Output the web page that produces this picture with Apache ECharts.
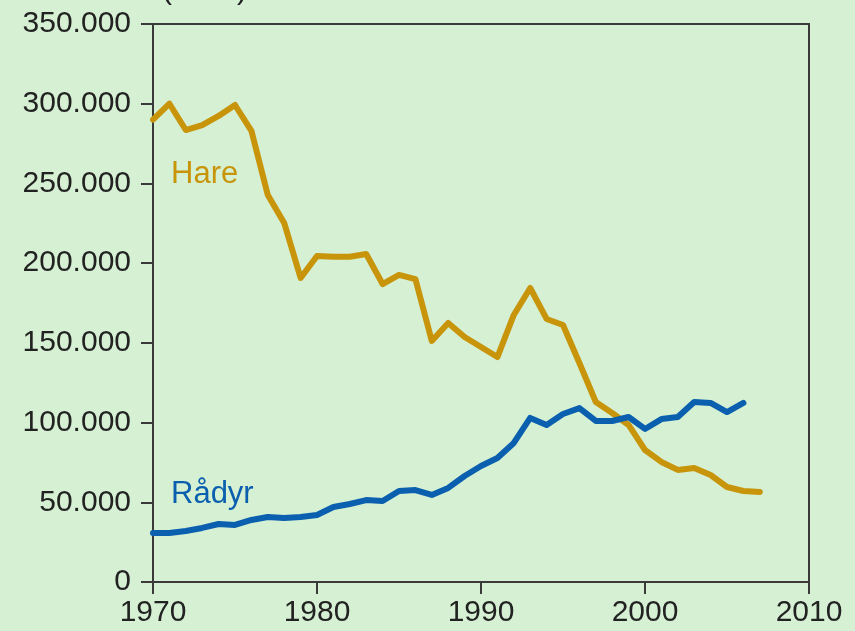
<!DOCTYPE html>
<html>
<head>
<meta charset="utf-8">
<script src="https://cdn.jsdelivr.net/npm/echarts@6/dist/echarts.min.js"></script>
<style>
  html, body { margin: 0; padding: 0; background: #d5f0d3; }
  #chart { width: 855px; height: 631px; }
</style>
</head>
<body>
<div id="chart"></div>
<script>
const years = []
for (let y = 1970; y <= 2007; y++) years.push(y)

const hare = [
  290000, 300000, 283500, 286600, 292300, 299200, 283000, 242700, 225200, 190700,
  204500, 204000, 204000, 205700, 186900, 192600, 190000, 151200, 162500, 153700,
  147400, 141100, 167500, 184400, 165000, 161200, 137400, 112900, 106000, 98500,
  82800, 75300, 70300, 71500, 67100, 59600, 57100, 56500
]
const raadyr = [
  30700, 30700, 32000, 33900, 36400, 35800, 38900, 40800, 40100, 40800,
  42000, 47000, 48900, 51400, 50800, 57100, 57700, 54600, 59000, 66500,
  72800, 77800, 87200, 102900, 98500, 105400, 109100, 101000, 101000, 103500,
  96000, 102200, 103500, 112900, 112300, 106600, 112300
]

const font = 'Liberation Sans, Arial, sans-serif'
const axisColor = '#3a3a3a'

function pairs(vals) {
  return vals.map((v, i) => [years[i], v])
}

const chart = echarts.init(document.getElementById('chart'))
chart.setOption({
  backgroundColor: '#d5f0d3',
  animation: false,
  grid: {
    left: 153, right: 46, top: 24, bottom: 49,
    show: true, borderColor: axisColor, borderWidth: 2,
    backgroundColor: 'transparent'
  },
  graphic: [
    { type: 'text', left: 162, top: -24,
      style: { text: '(antal)', font: '30px ' + font, fill: '#222' } },
    { type: 'text', left: 171, top: 159,
      style: { text: 'Hare', font: '31px ' + font, fill: '#c8940a' } },
    { type: 'text', left: 171, top: 479,
      style: { text: 'Rådyr', font: '31px ' + font, fill: '#0a5fae' } }
  ],
  xAxis: {
    type: 'value', min: 1970, max: 2010, interval: 10,
    axisLine: { lineStyle: { color: axisColor, width: 2 } },
    axisTick: { inside: false, length: 12, lineStyle: { color: axisColor, width: 2 } },
    axisLabel: {
      color: '#222', fontSize: 30, fontFamily: font, margin: 16,
      formatter: v => String(v)
    },
    splitLine: { show: false }
  },
  yAxis: {
    type: 'value', min: 0, max: 350000, interval: 50000,
    axisLine: { show: true, lineStyle: { color: axisColor, width: 2 } },
    axisTick: { show: true, inside: false, length: 12, lineStyle: { color: axisColor, width: 2 } },
    axisLabel: {
      color: '#222', fontSize: 30, fontFamily: font, margin: 22,
      formatter: v => v === 0 ? '0' : String(v).replace(/\B(?=(\d{3})+(?!\d))/g, '.')
    },
    splitLine: { show: false }
  },
  series: [
    {
      name: 'Hare', type: 'line', data: pairs(hare), showSymbol: false,
      lineStyle: { color: '#c8940a', width: 6, join: 'round', cap: 'round' }
    },
    {
      name: 'Rådyr', type: 'line', data: pairs(raadyr), showSymbol: false,
      lineStyle: { color: '#0a5fae', width: 6, join: 'round', cap: 'round' }
    }
  ]
})
</script>
</body>
</html>
